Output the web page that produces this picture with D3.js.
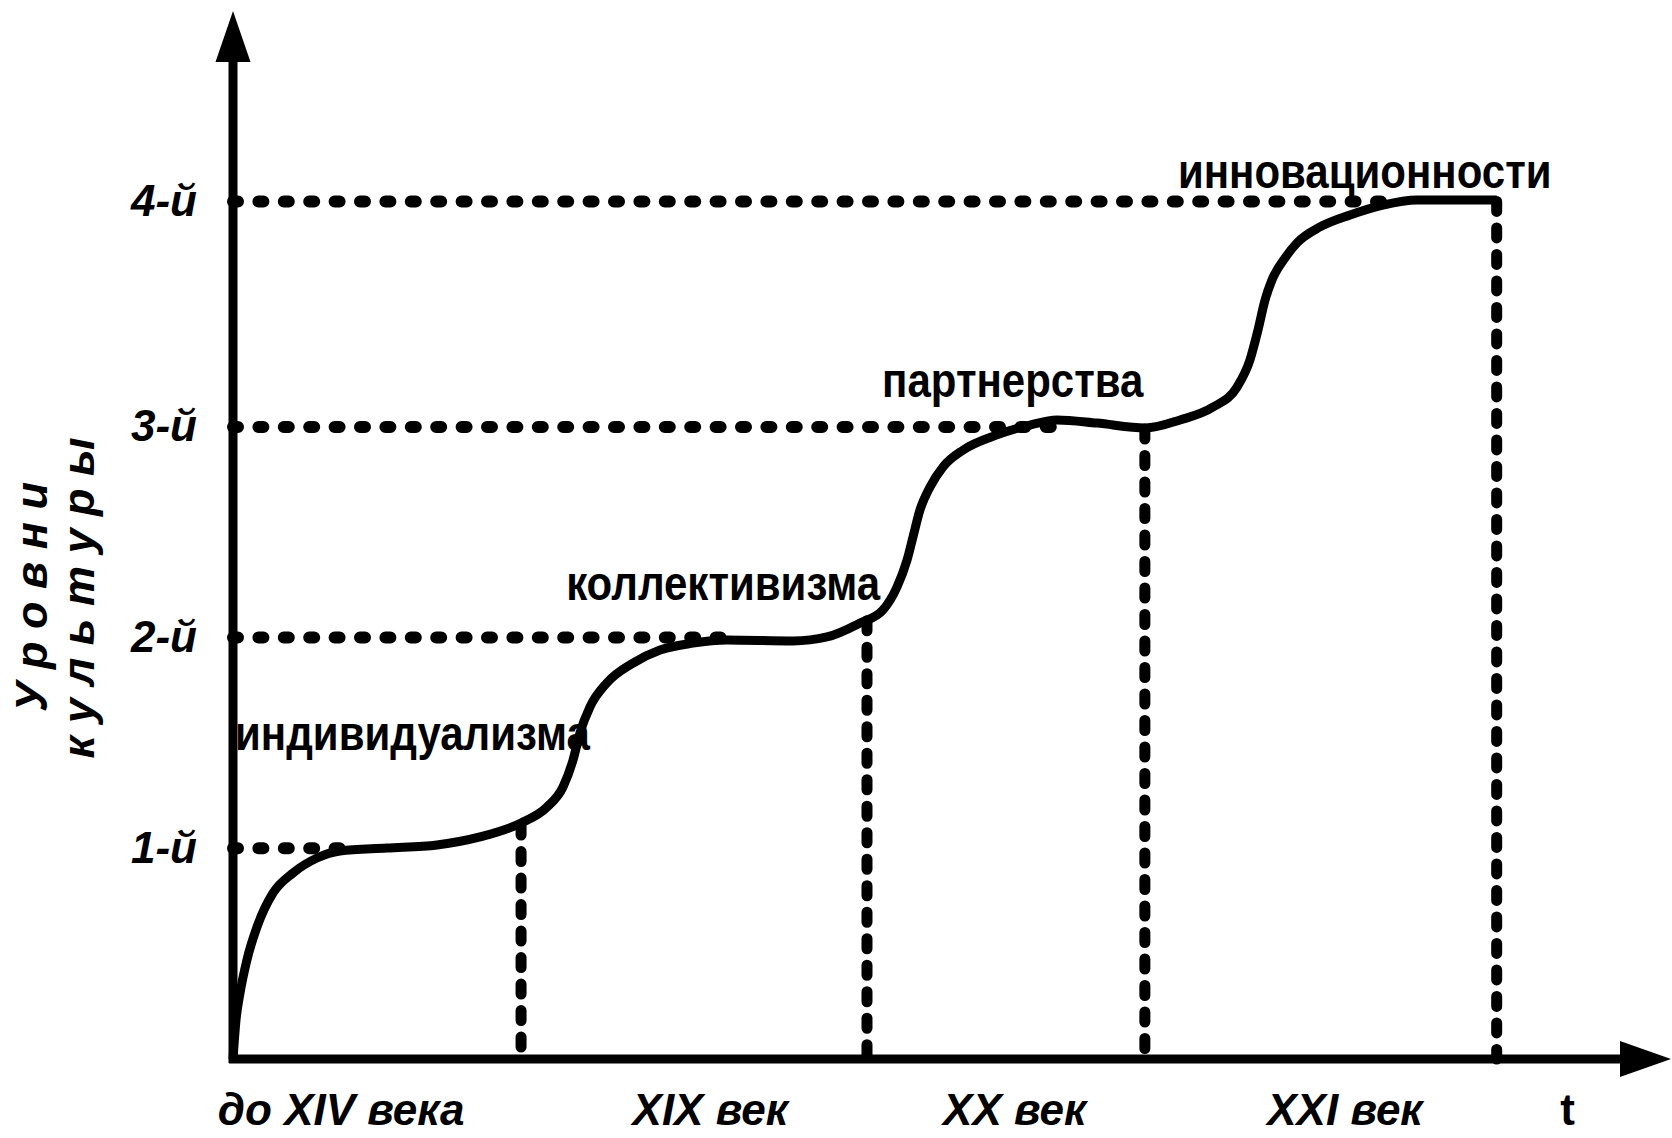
<!DOCTYPE html>
<html lang="ru">
<head>
<meta charset="utf-8">
<title>Уровни культуры</title>
<script src="https://cdn.jsdelivr.net/npm/d3@7"></script>
<style>
  body { margin: 0; background: #fff; }
  svg { display: block; font-family: "Liberation Sans", Arial, sans-serif; }
</style>
</head>
<body>
<svg id="chart" width="1672" height="1138"></svg>
<script>
// уровни культуры (ось Y)
const levels = [1, 2, 3, 4.07];
const levelLabels = ['1-й', '2-й', '3-й', '4-й'];
const levelNames = ['индивидуализма', 'коллективизма', 'партнерства', 'инновационности'];
// где кривая выходит на уровень (по оси t)
const levelReachedAt = [7.5, 34.4, 57.4, 80.1];
// привязка подписей уровней (t, уровень)
const nameT = [0.14, 23.2, 45.2, 65.8];
const nameLevel = [1.467, 2.178, 3.142, 4.134];

// эпохи (ось t)
const periods = ['до XIV века', 'XIX век', 'XX век', 'XXI век'];
const periodLabelT = [7.5, 33.2, 54.4, 77.4];
const periodEnds = [20.06, 44.15, 63.5, 88.0];
const periodEndLevel = [1.11, 2.08, 2.99, 4.07];
const tLabel = 't';
const tLabelT = 92.9;

// кривая развития
const curveT = [0, 0.21, 0.49, 0.97, 1.67, 2.79, 4.18, 5.85, 7.45, 10.72, 14.21, 17.2, 20.06,
  21.87, 22.98, 23.68, 24.16, 24.86, 26.04, 27.86, 29.74, 32.03, 34.4, 39.0, 41.36, 43.66,
  45.26, 46.24, 46.94, 47.35, 47.84, 48.54, 49.44, 50.84, 53.2, 55.5, 57.38, 60.17, 63.51,
  65.95, 68.25, 69.92, 70.82, 71.38, 71.87, 72.35, 73.26, 74.09, 75.7, 77.79, 80.08, 82.45, 88.0];
const curveLevel = [0, 0.185, 0.313, 0.47, 0.626, 0.788, 0.883, 0.954, 0.987, 1.001, 1.016, 1.054, 1.12,
  1.196, 1.291, 1.419, 1.547, 1.671, 1.785, 1.879, 1.941, 1.974, 1.989, 1.984, 2.003, 2.069,
  2.131, 2.24, 2.368, 2.477, 2.606, 2.715, 2.81, 2.89, 2.962, 3.009, 3.033, 3.018, 2.995,
  3.033, 3.094, 3.189, 3.318, 3.46, 3.602, 3.697, 3.802, 3.873, 3.949, 4.006, 4.053, 4.077, 4.077];

const svg = d3.select('#chart');
const width = 1672;
const height = 1138;

const x = d3.scaleLinear().domain([0, 100]).range([233, 1669]);
const y = d3.scaleLinear().domain([0, 5]).range([1059, 5.5]);

svg.append('rect').attr('width', width).attr('height', height).attr('fill', '#fff');

// пунктир по уровням
svg.append('g')
  .selectAll('line')
  .data(levels)
  .enter().append('line')
  .attr('x1', x(0))
  .attr('x2', (d, i) => x(levelReachedAt[i]))
  .attr('y1', d => y(d))
  .attr('y2', d => y(d))
  .attr('stroke', '#000')
  .attr('stroke-width', 12)
  .attr('stroke-linecap', 'round')
  .attr('stroke-dasharray', '5 20.4');

// пунктир по границам эпох
svg.append('g')
  .selectAll('line')
  .data(periodEnds)
  .enter().append('line')
  .attr('x1', d => x(d))
  .attr('x2', d => x(d))
  .attr('y1', (d, i) => y(periodEndLevel[i]))
  .attr('y2', y(0))
  .attr('stroke', '#000')
  .attr('stroke-width', 11)
  .attr('stroke-linecap', 'round')
  .attr('stroke-dasharray', '10 16.5');

// кривая
const line = d3.line()
  .x(d => x(d[0]))
  .y(d => y(d[1]))
  .curve(d3.curveMonotoneX);

svg.append('path')
  .datum(d3.zip(curveT, curveLevel))
  .attr('d', line)
  .attr('fill', 'none')
  .attr('stroke', '#000')
  .attr('stroke-width', 9)
  .attr('stroke-linejoin', 'round');

// оси со стрелками
const x0 = x(0), y0 = y(0);
svg.append('line')
  .attr('x1', x0).attr('x2', x0)
  .attr('y1', y0 + 4).attr('y2', 60)
  .attr('stroke', '#000').attr('stroke-width', 9);
svg.append('path')
  .attr('d', `M${x0},11 L${x0 - 17.5},62 L${x0 + 17.5},62 Z`)
  .attr('fill', '#000');

svg.append('line')
  .attr('x1', x0 - 4).attr('x2', 1622)
  .attr('y1', y0).attr('y2', y0)
  .attr('stroke', '#000').attr('stroke-width', 9);
svg.append('path')
  .attr('d', `M1671,${y0} L1620,${y0 - 18} L1620,${y0 + 18} Z`)
  .attr('fill', '#000');

// подписи уровней
const yAxis = d3.axisLeft(y)
  .tickValues(levels)
  .tickSize(0)
  .tickPadding(36)
  .tickFormat((d, i) => levelLabels[i]);

svg.append('g')
  .attr('transform', `translate(${x0},0)`)
  .call(yAxis)
  .call(g => g.select('.domain').remove())
  .call(g => g.selectAll('.tick line').remove())
  .selectAll('text')
  .attr('fill', '#000')
  .attr('font-family', '"Liberation Sans", Arial, sans-serif')
  .attr('font-size', 44)
  .attr('font-weight', 'bold')
  .attr('font-style', 'italic');

// подписи эпох
const xAxis = d3.axisBottom(x)
  .tickValues(periodLabelT.concat([tLabelT]))
  .tickSize(0)
  .tickPadding(35)
  .tickFormat((d, i) => i < periods.length ? periods[i] : tLabel);

svg.append('g')
  .attr('transform', `translate(0,${y0})`)
  .call(xAxis)
  .call(g => g.select('.domain').remove())
  .call(g => g.selectAll('.tick line').remove())
  .selectAll('text')
  .attr('fill', '#000')
  .attr('font-family', '"Liberation Sans", Arial, sans-serif')
  .attr('font-size', 44)
  .attr('font-weight', 'bold')
  .attr('font-style', (d, i) => i < periods.length ? 'italic' : 'normal');

// названия уровней у кривой (шрифт чуть вытянут по вертикали, как в оригинале)
svg.append('g')
  .selectAll('text')
  .data(levelNames)
  .enter().append('text')
  .attr('transform', (d, i) => `translate(${x(nameT[i])},${y(nameLevel[i])}) scale(1,1.15)`)
  .attr('font-size', 42)
  .attr('font-weight', 'bold')
  .attr('fill', '#000')
  .text(d => d);

// название оси Y
const yTitle = svg.append('g').attr('font-size', 45).attr('font-weight', 'bold').attr('font-style', 'italic');
yTitle.append('text')
  .attr('transform', 'translate(47,597) rotate(-90)')
  .attr('text-anchor', 'middle')
  .text('У р о в н и');
yTitle.append('text')
  .attr('transform', 'translate(94,598) rotate(-90)')
  .attr('text-anchor', 'middle')
  .text('к у л ь т у р ы');
</script>
</body>
</html>
